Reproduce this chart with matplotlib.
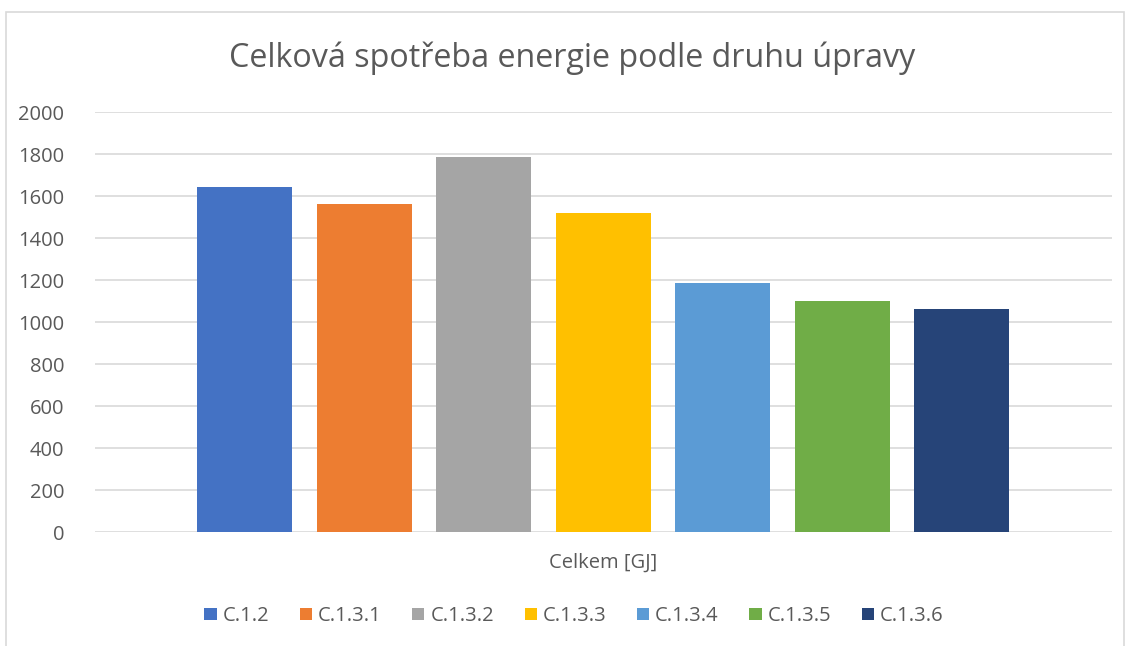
import matplotlib
matplotlib.use("Agg")
import matplotlib.pyplot as plt
from matplotlib.patches import Rectangle, Patch

# Total energy consumption per treatment variant [GJ]
variants = ["C.1.2", "C.1.3.1", "C.1.3.2", "C.1.3.3", "C.1.3.4", "C.1.3.5", "C.1.3.6"]
totals = [1641, 1560, 1784, 1518, 1186, 1100, 1062]
colors = ["#4472C4", "#ED7D31", "#A5A5A5", "#FFC000", "#5B9BD5", "#70AD47", "#264478"]
yticks = [0, 200, 400, 600, 800, 1000, 1200, 1400, 1600, 1800, 2000]

W, H = 1131, 646
fig = plt.figure(figsize=(W / 100, H / 100), dpi=100)
plt.rcParams['font.family'] = ['Open Sans', 'DejaVu Sans']
txt = "#595959"

# chart frame
fig.patches.append(Rectangle((6 / W, -0.05), (1124 - 6) / W, 1.05 - 12 / H,
                             transform=fig.transFigure, fill=False,
                             edgecolor="#d9d9d9", lw=1.2))

ax = fig.add_axes([95 / W, (H - 532) / H, (1112 - 95) / W, 420 / H])
x = list(range(len(variants)))
ax.bar(x, totals, width=0.795, color=colors, zorder=3)
ax.set_xlim(-1.251, 7.259)
ax.set_ylim(0, 2000)
ax.set_yticks(yticks)
ax.set_xticks([])
ax.grid(axis="y", color="#d9d9d9", lw=1.2, zorder=0)
for s in ax.spines.values():
    s.set_visible(False)
ax.tick_params(axis="y", length=0, pad=22, labelsize=14.5, labelcolor=txt)

fig.text(572 / W, 1 - 58 / H, "Celková spotřeba energie podle druhu úpravy",
         ha="center", va="center", fontsize=23.2, color=txt)
fig.text(603 / W, 1 - 563 / H, "Celkem [GJ]", ha="center", va="center",
         fontsize=14.5, color=txt)

handles = [Patch(facecolor=c, edgecolor="none") for c in colors]
fig.legend(handles, variants, loc="center", bbox_to_anchor=(574 / W, 1 - 616 / H),
           ncol=7, frameon=False, fontsize=14.5, labelcolor=txt,
           handlelength=0.6, handleheight=0.6, handletextpad=0.3,
           columnspacing=1.52)

fig.savefig("out.png", dpi=100)
